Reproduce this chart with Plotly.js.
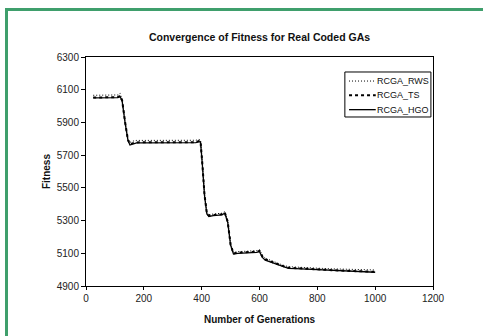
<!DOCTYPE html>
<html>
<head>
<meta charset="utf-8">
<script src="https://cdn.plot.ly/plotly-3.0.1.min.js"></script>
<style>
  html, body { margin: 0; padding: 0; background: #ffffff; }
  #wrap { position: relative; width: 483px; height: 336px; overflow: hidden; }
  #frame { position: absolute; left: 5px; top: 8px; width: 600px; height: 600px;
           border-left: 3px solid #3f9f6c; border-top: 3px solid #3f9f6c; pointer-events: none; z-index: 5; }
  #chart { position: absolute; left: 0; top: 0; width: 483px; height: 336px; }
</style>
</head>
<body>
<div id="wrap">
  <div id="chart"></div>
  <div id="frame"></div>
</div>
<script>
// Generation numbers at which fitness was sampled
const generations = [25, 50, 75, 100, 110, 118, 125, 135, 145, 152, 160, 175, 200, 250, 300, 350, 380, 390, 396, 402, 410, 418, 425, 440, 460, 470, 480, 490, 500, 510, 525, 550, 575, 590, 600, 610, 620, 640, 660, 680, 700, 725, 750, 800, 850, 900, 950, 1000];

// Best fitness per selection scheme
const rcgaRWS = [6066, 6066, 6066, 6066, 6068, 6078, 6040, 5910, 5800, 5778, 5785, 5790, 5790, 5790, 5790, 5790, 5791, 5796, 5794, 5660, 5460, 5350, 5336, 5340, 5342, 5345, 5355, 5300, 5160, 5105, 5110, 5112, 5112, 5116, 5122, 5088, 5070, 5056, 5040, 5028, 5018, 5015, 5013, 5009, 5005, 5002, 5000, 4998];
const rcgaTS  = [6052, 6052, 6052, 6052, 6055, 6062, 6034, 5904, 5794, 5766, 5772, 5778, 5778, 5778, 5778, 5778, 5779, 5786, 5784, 5654, 5454, 5344, 5330, 5334, 5336, 5339, 5349, 5294, 5154, 5099, 5104, 5106, 5106, 5110, 5115, 5080, 5063, 5049, 5034, 5022, 5012, 5009, 5007, 5003, 4997, 4993, 4989, 4987];
const rcgaHGO = [6050, 6050, 6050, 6050, 6052, 6058, 6030, 5900, 5790, 5762, 5768, 5775, 5775, 5775, 5775, 5775, 5776, 5782, 5780, 5650, 5450, 5340, 5325, 5330, 5332, 5335, 5345, 5290, 5150, 5095, 5100, 5102, 5102, 5105, 5110, 5075, 5058, 5045, 5030, 5018, 5008, 5006, 5004, 5000, 4994, 4990, 4986, 4984];

const seriesNames = ['RCGA_RWS', 'RCGA_TS', 'RCGA_HGO'];
const xTicks = [0, 200, 400, 600, 800, 1000, 1200];
const yTicks = [4900, 5100, 5300, 5500, 5700, 5900, 6100, 6300];

const FONT = 'Liberation Sans, Arial, sans-serif';

// line styles shared by the curves and the legend key
const styles = [
  { color: '#000', width: 1, dash: '1px,2px' },
  { color: '#000', width: 2, dash: '3px,3px' },
  { color: '#000', width: 1.3, dash: 'solid' }
];
const series = [rcgaRWS, rcgaTS, rcgaHGO];

const traces = series.map((ys, i) => ({
  x: generations, y: ys, name: seriesNames[i], mode: 'lines', line: styles[i]
}));

// boxed legend in the upper right of the plot area
const legBox = { x0: 0.746, x1: 0.994, y0: 0.738, y1: 0.9345 };
const legRows = [0.895, 0.833, 0.770];
const shapes = [{
  type: 'rect', xref: 'paper', yref: 'paper',
  x0: legBox.x0, x1: legBox.x1, y0: legBox.y0, y1: legBox.y1,
  line: { color: '#000', width: 1 }, fillcolor: '#ffffff', layer: 'above'
}];
const annotations = [];
seriesNames.forEach((nm, i) => {
  shapes.push({
    type: 'line', xref: 'paper', yref: 'paper',
    x0: 0.758, x1: 0.835, y0: legRows[i], y1: legRows[i],
    line: styles[i], layer: 'above'
  });
  annotations.push({
    xref: 'paper', yref: 'paper', x: 0.832, y: legRows[i],
    xanchor: 'left', yanchor: 'middle', showarrow: false, text: nm,
    font: { family: FONT, size: 9, color: '#111' }
  });
});

const layout = {
  width: 483, height: 336,
  margin: { l: 86, r: 50, t: 57, b: 50 },
  paper_bgcolor: '#ffffff', plot_bgcolor: '#ffffff',
  font: { family: FONT, size: 10, color: '#222' },
  title: { text: '<b>Convergence of Fitness for Real Coded GAs</b>',
           font: { family: FONT, size: 10.5, color: '#111' },
           x: 0.5, xref: 'paper', y: 0.89, yref: 'container', yanchor: 'middle' },
  xaxis: {
    range: [0, 1200], tickvals: xTicks, ticktext: xTicks.map(String),
    showgrid: false, zeroline: false, showline: true, linecolor: '#000', linewidth: 1,
    mirror: true, ticks: 'outside', ticklen: 3, tickcolor: '#000',
    tickfont: { family: FONT, size: 10, color: '#222' },
    title: { text: '<b>Number of Generations</b>', font: { family: FONT, size: 10, color: '#111' }, standoff: 12 }
  },
  yaxis: {
    range: [4900, 6300], tickvals: yTicks, ticktext: yTicks.map(String),
    showgrid: false, zeroline: false, showline: true, linecolor: '#000', linewidth: 1,
    mirror: true, ticks: 'outside', ticklen: 4, tickcolor: '#000',
    tickfont: { family: FONT, size: 10, color: '#222' },
    title: { text: '<b>Fitness</b>', font: { family: FONT, size: 10, color: '#111' }, standoff: 4 }
  },
  showlegend: false,
  shapes: shapes,
  annotations: annotations
};

Plotly.newPlot('chart', traces, layout, { displayModeBar: false, staticPlot: true });
</script>
</body>
</html>
